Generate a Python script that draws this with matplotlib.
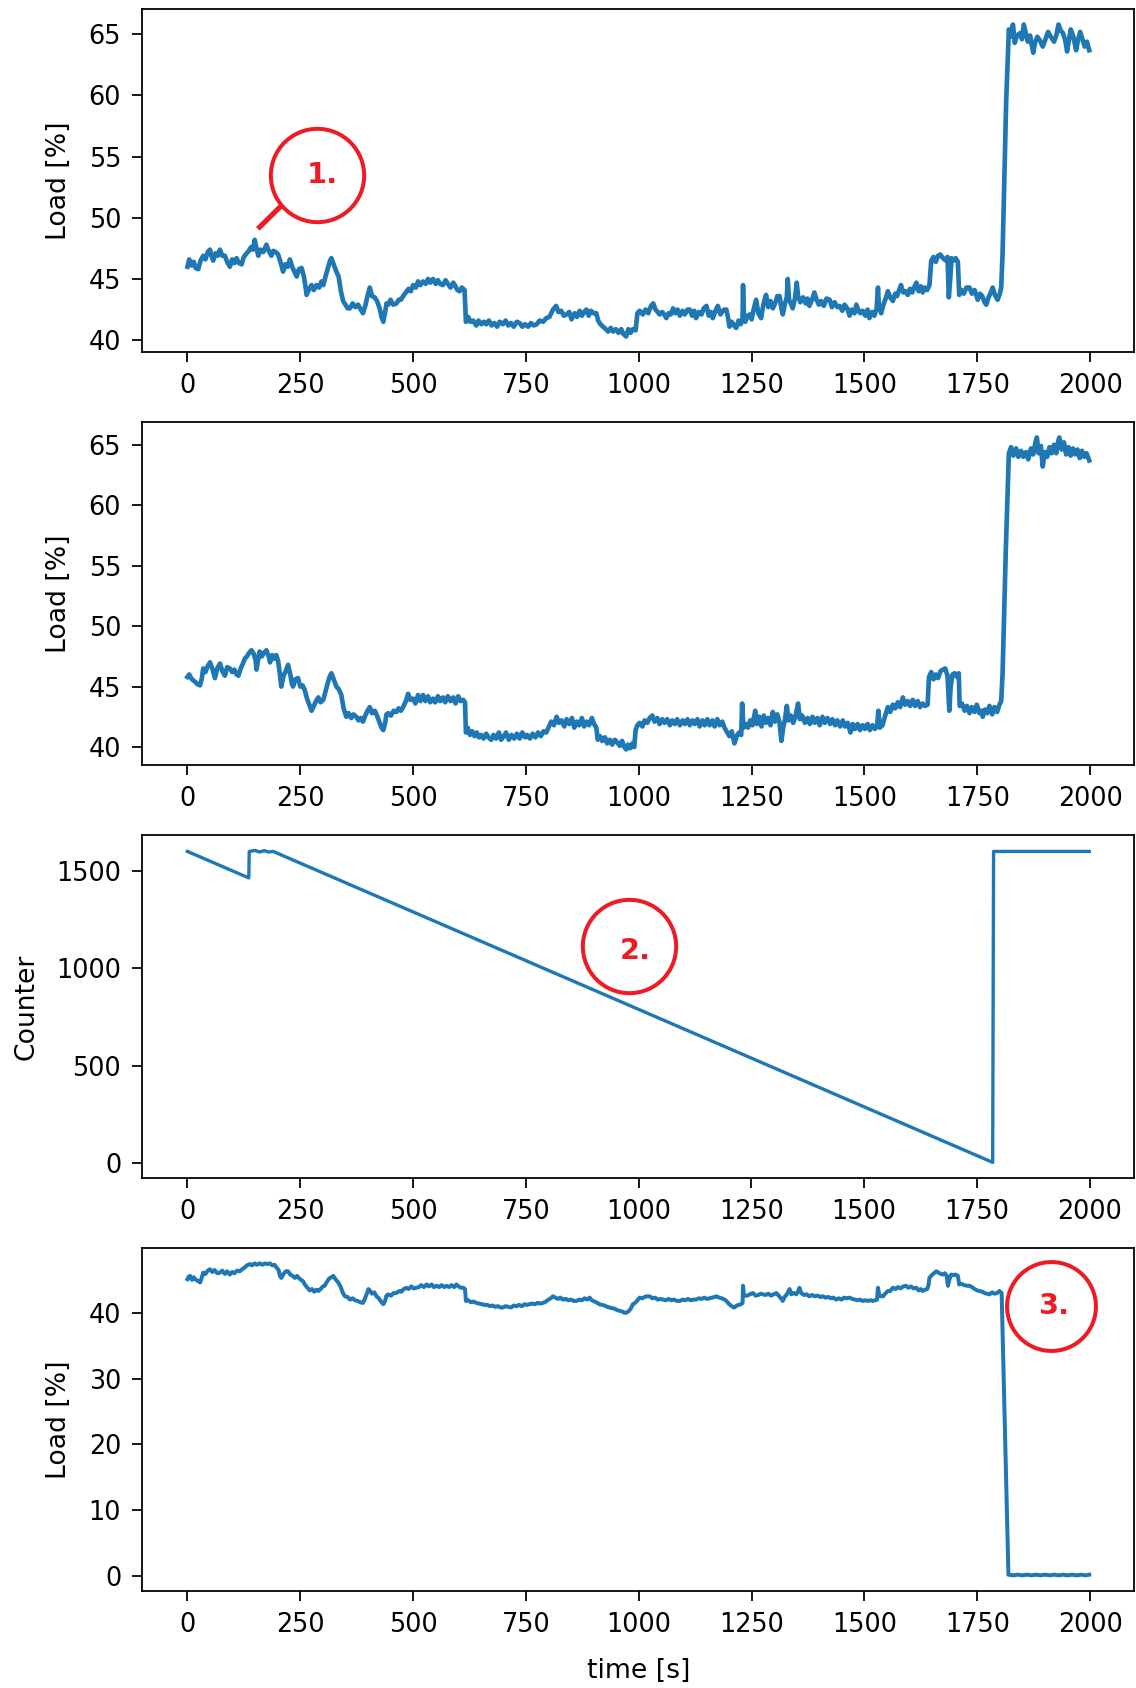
import matplotlib
matplotlib.use("Agg")
import matplotlib.pyplot as plt

# --- data ---

# panel 1: load before the fix
t_load1 = [0, 4, 9, 14, 18, 24, 29, 35, 40, 45, 50, 54, 57, 62, 67, 72, 77, 83, 88, 94,
           99, 104, 109, 114, 120, 125, 131, 136, 141, 145, 149, 153, 157, 162, 168, 175, 180, 186, 190, 196,
           201, 206, 212, 217, 222, 227, 232, 237, 242, 247, 253, 258, 262, 264, 270, 275, 280, 286, 292, 297,
           301, 306, 312, 316, 319, 324, 330, 335, 340, 345, 350, 355, 360, 366, 372, 378, 384, 389, 394, 399,
           404, 409, 415, 420, 426, 430, 434, 438, 441, 445, 450, 456, 463, 468, 473, 478, 484, 490, 495, 500,
           506, 511, 516, 522, 528, 533, 538, 544, 550, 555, 560, 566, 572, 577, 583, 589, 594, 598, 603, 608,
           614, 617, 622, 627, 633, 640, 645, 651, 657, 662, 668, 674, 680, 686, 692, 699, 705, 711, 717, 723,
           730, 736, 742, 748, 755, 761, 767, 774, 780, 788, 795, 802, 810, 817, 822, 828, 834, 840, 846, 851,
           858, 863, 869, 874, 879, 884, 889, 894, 900, 906, 910, 915, 921, 927, 932, 938, 943, 949, 955, 961,
           966, 972, 977, 982, 987, 993, 997, 1002, 1009, 1015, 1021, 1027, 1032, 1037, 1042, 1046, 1052, 1058, 1061, 1066,
           1071, 1076, 1081, 1086, 1091, 1097, 1102, 1108, 1113, 1118, 1123, 1127, 1133, 1139, 1144, 1150, 1155, 1160, 1164, 1170,
           1175, 1181, 1186, 1190, 1194, 1198, 1201, 1206, 1211, 1216, 1221, 1226, 1230, 1231, 1233, 1236, 1241, 1246, 1250, 1255,
           1260, 1265, 1271, 1276, 1282, 1287, 1292, 1297, 1303, 1307, 1312, 1316, 1319, 1324, 1328, 1330, 1333, 1337, 1341, 1346,
           1350, 1353, 1358, 1364, 1370, 1374, 1378, 1384, 1389, 1394, 1399, 1404, 1410, 1416, 1423, 1428, 1434, 1440, 1445, 1451,
           1456, 1462, 1467, 1472, 1478, 1482, 1487, 1491, 1496, 1502, 1507, 1511, 1517, 1522, 1527, 1530, 1532, 1537, 1542, 1547,
           1552, 1557, 1563, 1568, 1572, 1577, 1581, 1586, 1591, 1596, 1601, 1606, 1610, 1615, 1620, 1625, 1629, 1634, 1639, 1644,
           1648, 1653, 1658, 1663, 1668, 1672, 1677, 1681, 1684, 1687, 1690, 1693, 1698, 1702, 1707, 1710, 1715, 1720, 1726, 1733,
           1738, 1744, 1751, 1756, 1761, 1766, 1770, 1775, 1780, 1784, 1789, 1795, 1800, 1803, 1806, 1814, 1820, 1824, 1829, 1833,
           1838, 1845, 1849, 1853, 1858, 1862, 1867, 1874, 1878, 1883, 1889, 1895, 1901, 1907, 1913, 1920, 1925, 1930, 1935, 1940,
           1945, 1949, 1953, 1957, 1963, 1969, 1973, 1978, 1983, 1988, 1993, 1998]
load1 = [46.0, 46.6, 46.1, 46.4, 45.9, 45.8, 46.5, 46.9, 46.6, 47.2, 47.4, 46.8, 46.5, 47.1, 46.9, 47.4, 46.9, 46.9, 46.4, 46.0,
         46.6, 46.3, 46.7, 46.3, 46.2, 46.8, 47.1, 47.3, 47.6, 47.4, 48.2, 47.5, 46.9, 47.4, 47.2, 47.8, 47.3, 46.9, 47.3, 47.2,
         47.0, 46.4, 45.6, 46.2, 46.0, 46.6, 46.0, 45.6, 45.2, 45.8, 45.9, 45.2, 44.3, 43.7, 44.2, 44.5, 44.1, 44.5, 44.3, 44.8,
         44.5, 45.2, 46.0, 46.5, 46.7, 46.2, 45.6, 45.2, 44.0, 43.2, 42.9, 42.6, 42.6, 43.0, 42.7, 42.9, 42.5, 42.2, 42.8, 43.6,
         44.3, 43.6, 43.5, 43.2, 42.6, 41.9, 41.5, 42.3, 43.0, 42.9, 43.3, 42.9, 43.0, 43.3, 43.3, 43.6, 43.9, 44.2, 44.0, 44.5,
         44.3, 44.8, 44.5, 44.8, 44.6, 45.0, 44.7, 45.0, 44.6, 44.9, 44.6, 44.5, 44.9, 44.6, 44.3, 44.7, 44.4, 44.1, 44.0, 44.3,
         44.1, 41.5, 41.9, 41.5, 41.6, 41.2, 41.6, 41.3, 41.5, 41.3, 41.6, 41.2, 41.4, 41.1, 41.5, 41.3, 41.6, 41.2, 41.4, 41.1,
         41.5, 41.4, 41.1, 41.3, 41.1, 41.4, 41.2, 41.3, 41.6, 41.5, 41.8, 41.9, 42.5, 42.8, 42.3, 42.4, 42.0, 42.1, 42.3, 41.7,
         42.2, 41.9, 42.4, 42.0, 42.3, 42.5, 42.0, 42.4, 42.2, 42.2, 41.6, 41.3, 41.1, 40.9, 40.7, 41.0, 40.7, 40.9, 40.6, 40.9,
         40.5, 40.3, 40.9, 40.6, 40.9, 40.8, 42.2, 42.4, 42.1, 42.5, 42.2, 42.8, 43.0, 42.5, 42.3, 42.1, 42.3, 42.0, 41.8, 42.2,
         42.1, 42.6, 42.2, 42.5, 42.0, 42.4, 42.1, 42.5, 42.5, 42.0, 42.4, 41.8, 42.3, 42.1, 42.6, 42.8, 42.0, 42.3, 41.8, 42.4,
         42.8, 42.1, 42.4, 42.5, 42.5, 41.8, 41.1, 41.5, 41.2, 41.0, 41.6, 41.3, 41.8, 44.5, 41.7, 41.5, 42.0, 42.1, 41.7, 42.6,
         43.3, 42.2, 41.8, 42.9, 43.7, 42.7, 43.2, 42.6, 43.1, 43.6, 43.6, 42.6, 42.1, 43.0, 43.5, 45.0, 43.3, 43.0, 42.6, 43.4,
         44.7, 43.6, 43.1, 43.5, 43.0, 43.4, 42.8, 43.3, 43.9, 43.3, 42.9, 43.2, 42.8, 43.4, 43.3, 42.7, 43.1, 42.7, 42.8, 42.4,
         42.9, 42.6, 42.0, 42.5, 42.2, 42.9, 42.4, 42.2, 42.4, 42.0, 42.5, 41.8, 42.3, 42.0, 42.6, 44.3, 42.8, 42.2, 42.9, 43.4,
         44.0, 43.5, 43.2, 43.8, 43.6, 44.1, 44.5, 43.9, 44.0, 43.7, 44.2, 43.9, 44.3, 44.7, 44.0, 44.4, 43.9, 44.3, 44.1, 44.5,
         46.5, 46.8, 46.4, 46.9, 47.0, 46.8, 46.6, 46.5, 46.8, 43.5, 45.0, 46.7, 46.5, 46.7, 46.4, 43.7, 44.1, 43.8, 44.3, 44.3,
         43.8, 44.1, 43.3, 43.8, 43.6, 43.1, 42.9, 43.5, 43.9, 44.3, 43.7, 43.3, 43.8, 44.3, 47.0, 59.5, 65.4, 64.8, 65.8, 64.3,
         64.9, 65.1, 64.6, 65.8, 65.0, 64.4, 64.9, 63.5, 64.3, 64.8, 64.5, 64.0, 64.6, 65.2, 64.8, 64.4, 64.9, 65.8, 65.3, 65.1,
         64.5, 63.6, 64.5, 65.4, 64.8, 63.7, 64.5, 65.2, 64.6, 64.0, 64.4, 63.7]

# panel 2: load after the fix
t_load2 = [0, 4, 8, 13, 17, 22, 28, 32, 35, 40, 45, 50, 55, 61, 66, 72, 77, 83, 88, 94,
           99, 104, 109, 113, 118, 123, 127, 132, 137, 142, 147, 151, 153, 156, 160, 165, 170, 175, 180, 183,
           188, 193, 197, 201, 205, 208, 213, 218, 223, 228, 231, 234, 239, 245, 250, 255, 260, 265, 270, 275,
           280, 285, 290, 295, 301, 306, 311, 315, 319, 324, 330, 335, 341, 346, 352, 357, 363, 368, 374, 379,
           384, 389, 394, 399, 404, 409, 415, 420, 425, 430, 434, 438, 441, 445, 451, 457, 463, 468, 473, 478,
           484, 489, 494, 500, 505, 511, 516, 522, 527, 533, 538, 544, 549, 555, 560, 566, 571, 577, 583, 589,
           594, 600, 605, 611, 615, 617, 621, 626, 631, 636, 641, 646, 651, 656, 662, 667, 673, 678, 684, 690,
           695, 701, 706, 712, 718, 724, 730, 736, 742, 748, 753, 759, 765, 771, 777, 783, 789, 795, 800, 806,
           812, 818, 823, 829, 835, 840, 846, 852, 857, 863, 868, 874, 879, 885, 890, 896, 901, 906, 909, 914,
           919, 925, 930, 936, 941, 947, 952, 958, 963, 968, 972, 976, 981, 986, 990, 993, 997, 1002, 1008, 1013,
           1019, 1024, 1030, 1035, 1041, 1046, 1052, 1057, 1063, 1069, 1074, 1080, 1085, 1091, 1097, 1102, 1108, 1113, 1119, 1124,
           1130, 1135, 1141, 1146, 1152, 1157, 1163, 1168, 1174, 1179, 1185, 1190, 1196, 1201, 1206, 1212, 1217, 1222, 1227, 1229,
           1232, 1237, 1242, 1247, 1252, 1258, 1262, 1267, 1272, 1277, 1282, 1287, 1292, 1297, 1302, 1307, 1312, 1316, 1320, 1324,
           1328, 1332, 1337, 1342, 1347, 1353, 1357, 1362, 1368, 1374, 1379, 1385, 1390, 1396, 1401, 1407, 1412, 1418, 1424, 1429,
           1435, 1440, 1446, 1452, 1457, 1463, 1469, 1474, 1479, 1485, 1490, 1496, 1501, 1507, 1512, 1518, 1523, 1528, 1531, 1534,
           1540, 1546, 1552, 1557, 1563, 1568, 1574, 1579, 1585, 1590, 1596, 1601, 1607, 1612, 1618, 1623, 1629, 1634, 1640, 1643,
           1648, 1653, 1658, 1663, 1669, 1674, 1679, 1684, 1688, 1691, 1695, 1700, 1705, 1709, 1711, 1716, 1722, 1727, 1733, 1738,
           1744, 1749, 1755, 1760, 1762, 1767, 1772, 1777, 1783, 1788, 1794, 1799, 1803, 1806, 1813, 1820, 1825, 1830, 1836, 1841,
           1847, 1852, 1858, 1863, 1869, 1874, 1879, 1882, 1886, 1891, 1895, 1900, 1905, 1910, 1915, 1920, 1925, 1930, 1932, 1937,
           1942, 1947, 1952, 1957, 1962, 1967, 1972, 1977, 1982, 1987, 1992, 1998]
load2 = [45.8, 46.0, 45.7, 45.5, 45.4, 45.2, 45.1, 45.7, 46.5, 46.2, 46.7, 47.0, 46.5, 45.7, 46.5, 46.9, 46.3, 45.9, 46.6, 46.5,
         46.2, 46.4, 46.0, 45.9, 46.5, 46.9, 47.3, 47.5, 47.8, 48.0, 47.7, 47.2, 46.4, 47.1, 47.9, 47.5, 47.8, 48.0, 47.5, 47.0,
         47.6, 47.3, 47.6, 47.1, 46.0, 45.0, 45.9, 46.3, 46.8, 46.0, 45.3, 45.0, 45.6, 45.7, 45.0, 45.1, 44.7, 44.0, 43.5, 43.0,
         43.4, 43.8, 44.1, 43.7, 43.9, 44.6, 45.3, 45.8, 46.1, 45.6, 45.0, 44.8, 44.3, 43.2, 42.5, 42.8, 42.4, 42.7, 42.5, 42.2,
         42.4, 42.1, 42.6, 43.0, 43.3, 42.8, 43.0, 42.6, 42.1, 41.6, 41.4, 42.0, 42.7, 42.8, 42.6, 43.0, 42.9, 43.2, 43.0, 43.3,
         43.8, 44.4, 43.9, 44.0, 43.6, 44.3, 43.8, 44.3, 43.8, 44.2, 43.7, 44.0, 43.7, 44.2, 43.8, 44.1, 43.7, 44.2, 43.8, 44.1,
         43.6, 44.2, 43.8, 43.9, 43.7, 41.2, 41.6, 41.0, 41.3, 40.9, 41.2, 40.8, 41.0, 40.7, 41.1, 40.8, 40.6, 41.0, 40.7, 41.2,
         40.6, 40.9, 41.2, 40.6, 41.0, 40.7, 41.1, 40.7, 41.2, 40.8, 41.0, 40.7, 41.1, 40.8, 41.2, 40.9, 41.3, 41.2, 41.6, 42.1,
         41.8, 42.5, 42.0, 42.2, 41.7, 42.3, 41.9, 42.4, 41.6, 42.1, 41.8, 42.4, 41.7, 42.1, 41.8, 42.4, 41.9, 41.6, 40.6, 40.9,
         40.5, 40.8, 40.3, 40.6, 40.2, 40.6, 40.4, 40.1, 40.5, 40.0, 39.8, 40.2, 39.9, 40.3, 40.0, 41.4, 41.8, 42.0, 41.7, 42.2,
         42.0, 42.4, 42.6, 42.1, 42.4, 41.9, 42.3, 42.0, 42.3, 41.8, 42.2, 41.9, 42.3, 41.8, 42.2, 41.9, 42.3, 41.8, 42.2, 41.9,
         42.3, 41.7, 42.2, 41.8, 42.3, 41.8, 42.2, 41.7, 42.3, 41.8, 42.1, 41.6, 41.2, 40.9, 41.3, 40.3, 40.9, 41.2, 41.0, 43.6,
         41.6, 41.9, 41.6, 42.2, 41.8, 43.0, 41.9, 42.5, 41.7, 42.6, 42.0, 42.4, 41.8, 42.9, 42.1, 42.7, 42.0, 40.5, 41.6, 42.3,
         43.4, 42.2, 42.6, 42.0, 42.5, 43.6, 42.3, 42.6, 42.0, 42.4, 41.9, 42.5, 42.0, 42.4, 41.8, 42.5, 42.0, 42.4, 41.9, 42.3,
         41.8, 42.2, 41.7, 42.2, 41.7, 42.0, 41.2, 41.9, 41.5, 41.9, 41.4, 41.8, 41.5, 41.9, 41.4, 41.8, 41.5, 41.7, 43.0, 41.6,
         41.8, 42.6, 43.3, 42.9, 43.5, 43.2, 43.7, 43.3, 44.1, 43.5, 43.8, 43.4, 43.9, 43.4, 43.8, 43.3, 43.6, 43.4, 43.5, 45.8,
         46.2, 45.6, 46.0, 45.7, 46.3, 46.4, 46.5, 45.9, 43.0, 45.0, 46.0, 46.1, 45.8, 46.1, 43.4, 43.6, 43.0, 43.4, 42.8, 43.3,
         42.9, 43.5, 42.8, 43.0, 42.5, 43.1, 42.8, 43.4, 42.7, 43.3, 42.9, 43.5, 43.8, 46.0, 56.0, 64.3, 64.8, 64.1, 64.7, 64.0,
         64.5, 64.0, 64.4, 63.8, 64.7, 64.2, 65.2, 65.6, 64.3, 64.9, 63.2, 64.4, 64.0, 64.8, 64.3, 65.0, 64.3, 65.4, 65.6, 64.6,
         65.2, 64.2, 64.8, 64.1, 64.7, 64.2, 64.6, 63.9, 64.5, 64.0, 64.3, 63.7]

# panel 3: counter
t_counter = [0, 136, 137, 150, 160, 170, 180, 190, 1785, 1787, 1999]
counter = [1600, 1464, 1600, 1605, 1597, 1604, 1597, 1600, 3, 1600, 1600]

# panel 4: load with the counter running out
t_load4 = [0, 3, 6, 10, 14, 17, 22, 28, 32, 35, 40, 45, 50, 55, 60, 66, 72, 77, 83, 88,
           94, 99, 104, 110, 116, 121, 127, 132, 138, 143, 149, 154, 160, 166, 171, 177, 183, 188, 193, 197,
           202, 205, 208, 213, 218, 223, 228, 233, 238, 243, 248, 252, 256, 261, 266, 271, 276, 281, 286, 290,
           295, 300, 304, 309, 314, 319, 323, 328, 334, 339, 344, 349, 355, 360, 366, 371, 377, 383, 389, 393,
           398, 401, 404, 409, 414, 419, 424, 429, 434, 438, 441, 445, 451, 457, 463, 469, 474, 479, 485, 490,
           496, 501, 507, 513, 518, 524, 530, 535, 541, 546, 552, 558, 563, 569, 574, 580, 585, 591, 596, 601,
           606, 611, 615, 617, 622, 628, 634, 640, 646, 652, 658, 664, 670, 676, 682, 688, 694, 699, 705, 711,
           717, 723, 729, 735, 741, 747, 753, 758, 764, 770, 776, 782, 788, 794, 800, 805, 810, 815, 821, 826,
           832, 838, 844, 850, 856, 862, 868, 874, 880, 886, 891, 896, 902, 908, 913, 919, 924, 930, 935, 941,
           947, 952, 958, 963, 968, 972, 977, 982, 987, 992, 996, 1002, 1008, 1013, 1017, 1024, 1030, 1036, 1042, 1048,
           1054, 1060, 1066, 1072, 1078, 1084, 1091, 1097, 1103, 1109, 1115, 1121, 1127, 1133, 1139, 1145, 1151, 1157, 1163, 1168,
           1172, 1178, 1184, 1190, 1194, 1199, 1204, 1208, 1212, 1217, 1222, 1227, 1230, 1231, 1233, 1240, 1246, 1253, 1259, 1265,
           1270, 1275, 1281, 1287, 1293, 1299, 1305, 1310, 1315, 1319, 1323, 1328, 1332, 1334, 1338, 1343, 1349, 1354, 1356, 1360,
           1366, 1372, 1378, 1384, 1390, 1396, 1402, 1408, 1414, 1420, 1426, 1431, 1437, 1443, 1449, 1455, 1461, 1467, 1473, 1479,
           1485, 1490, 1496, 1502, 1508, 1514, 1519, 1524, 1528, 1530, 1533, 1537, 1541, 1546, 1552, 1557, 1563, 1569, 1574, 1580,
           1586, 1592, 1597, 1603, 1609, 1615, 1620, 1625, 1629, 1634, 1639, 1642, 1644, 1649, 1654, 1659, 1664, 1669, 1674, 1678,
           1682, 1685, 1688, 1692, 1697, 1702, 1707, 1710, 1715, 1721, 1727, 1733, 1738, 1744, 1750, 1755, 1761, 1766, 1772, 1777,
           1783, 1788, 1794, 1799, 1804, 1819, 1830, 1840, 1850, 1860, 1870, 1880, 1890, 1900, 1910, 1920, 1930, 1940, 1950, 1960,
           1970, 1980, 1990, 1998]
load4 = [45.1, 45.5, 45.6, 45.0, 45.4, 45.1, 44.9, 44.6, 45.4, 46.1, 45.9, 46.4, 46.6, 46.2, 46.5, 46.0, 46.1, 46.4, 45.9, 46.3,
         45.8, 46.2, 46.0, 46.4, 46.3, 46.6, 46.9, 47.2, 47.4, 47.2, 47.5, 47.3, 47.5, 47.3, 47.5, 47.4, 47.5, 47.2, 47.3, 46.9,
         46.5, 45.6, 45.3, 45.9, 46.3, 46.3, 45.8, 45.6, 45.3, 45.6, 45.2, 45.0, 44.8, 44.2, 43.8, 43.4, 43.6, 43.2, 43.5, 43.3,
         43.6, 44.0, 44.1, 44.7, 45.2, 45.4, 45.6, 45.1, 44.6, 44.0, 43.1, 42.5, 42.4, 42.0, 42.2, 41.9, 41.8, 41.6, 41.5, 42.1,
         43.0, 43.6, 43.4, 42.9, 43.1, 42.5, 42.2, 41.7, 41.3, 41.8, 42.6, 42.8, 42.6, 43.0, 43.0, 43.3, 43.2, 43.6, 43.8, 43.6,
         44.0, 43.7, 43.8, 43.9, 44.2, 43.9, 44.3, 44.0, 44.3, 43.9, 44.1, 43.9, 44.2, 43.9, 44.1, 43.9, 44.2, 43.9, 44.3, 44.0,
         43.8, 43.8, 43.6, 41.8, 41.9, 41.6, 41.7, 41.5, 41.4, 41.3, 41.2, 41.2, 41.0, 41.1, 40.9, 41.0, 40.8, 40.8, 41.0, 40.9,
         40.8, 41.1, 41.0, 41.2, 41.0, 41.3, 41.2, 41.3, 41.4, 41.3, 41.5, 41.4, 41.5, 41.7, 42.0, 42.2, 42.5, 42.3, 42.1, 42.3,
         42.0, 42.1, 41.9, 42.0, 41.8, 41.8, 42.0, 41.9, 42.2, 42.0, 42.3, 41.9, 41.7, 41.5, 41.3, 41.2, 41.1, 40.9, 40.8, 40.7,
         40.6, 40.4, 40.3, 40.2, 40.0, 40.0, 40.2, 40.6, 41.3, 41.5, 41.8, 42.3, 42.2, 42.4, 42.5, 42.5, 42.2, 42.3, 42.0, 42.1,
         42.0, 41.9, 42.1, 41.9, 42.0, 41.8, 41.8, 42.0, 41.9, 42.1, 41.9, 42.0, 42.0, 42.2, 42.1, 42.3, 42.1, 42.2, 42.3, 42.4,
         42.5, 42.3, 42.2, 42.0, 41.8, 41.4, 41.1, 40.9, 40.8, 41.1, 41.2, 41.3, 41.5, 44.1, 42.6, 42.6, 42.8, 43.0, 42.6, 42.7,
         42.9, 42.8, 42.7, 42.9, 42.6, 42.8, 43.0, 42.6, 42.2, 41.8, 42.4, 42.8, 43.3, 43.6, 42.8, 43.0, 42.8, 43.4, 43.8, 43.0,
         42.7, 42.8, 42.5, 42.7, 42.5, 42.6, 42.4, 42.5, 42.3, 42.4, 42.2, 42.3, 42.0, 42.2, 42.0, 42.3, 42.2, 42.3, 42.1, 42.0,
         41.9, 42.0, 41.8, 41.9, 41.8, 41.9, 41.8, 41.9, 42.0, 43.8, 42.6, 42.5, 42.5, 42.9, 43.3, 43.3, 43.8, 43.6, 43.9, 43.7,
         44.0, 44.1, 43.8, 44.0, 43.7, 43.8, 43.4, 43.6, 43.3, 43.5, 43.6, 44.2, 45.3, 45.7, 46.0, 46.3, 46.1, 45.9, 45.8, 46.0,
         45.7, 44.1, 45.0, 45.8, 45.7, 45.8, 45.6, 44.3, 44.4, 44.2, 44.1, 44.1, 43.9, 43.6, 43.4, 43.3, 43.2, 43.0, 42.9, 42.8,
         43.1, 42.9, 43.0, 43.3, 43.0, 0.2, 0.1, 0.2, 0.1, 0.2, 0.1, 0.2, 0.1, 0.2, 0.1, 0.2, 0.1, 0.2, 0.1, 0.2,
         0.1, 0.2, 0.1, 0.2]

red = "#ed1c24"

plt.rcParams["font.size"] = 11.5
plt.rcParams["axes.labelsize"] = 12
plt.rcParams["xtick.major.size"] = 4.5
plt.rcParams["ytick.major.size"] = 4.5
plt.rcParams["xtick.major.pad"] = 5
plt.rcParams["ytick.major.pad"] = 5

fig, axes = plt.subplots(4, 1, figsize=(7.1, 10.55), dpi=160)
fig.subplots_adjust(left=0.1253, right=0.9985, top=0.9947, bottom=0.0575, hspace=0.2035)

ax1, ax2, ax3, ax4 = axes

ax1.plot(t_load1, load1, lw=2.1)
ax1.set_ylabel("Load [%]", labelpad=7.5)

ax2.plot(t_load2, load2, lw=2.1)
ax2.set_ylabel("Load [%]", labelpad=7.5)

ax3.plot(t_counter, counter)
ax3.set_ylabel("Counter", labelpad=7.5)

ax4.plot(t_load4, load4, lw=1.8)
ax4.set_ylabel("Load [%]", labelpad=7.5)
ax4.set_xlabel("time [s]", labelpad=9)

for ax in axes:
    ax.set_xticks([0, 250, 500, 750, 1000, 1250, 1500, 1750, 2000])

# red callouts drawn on top of the plots
ax1.plot([156, 211], [49.1, 51.1], color=red, lw=2.3, solid_capstyle="butt")
ax1.plot([287], [53.5], marker="o", ms=42, mfc="none", mec=red, mew=1.8, clip_on=False)
ax1.text(300, 53.5, "1.", color=red, fontsize=13, fontweight="bold", ha="center", va="center")

ax3.plot([978], [1114], marker="o", ms=42, mfc="none", mec=red, mew=1.8, clip_on=False)
ax3.text(993, 1090, "2.", color=red, fontsize=13, fontweight="bold", ha="center", va="center")

ax4.plot([1914], [41.1], marker="o", ms=40, mfc="none", mec=red, mew=1.8, clip_on=False)
ax4.text(1919, 41.0, "3.", color=red, fontsize=13, fontweight="bold", ha="center", va="center")

plt.savefig("out.png", dpi=160)
